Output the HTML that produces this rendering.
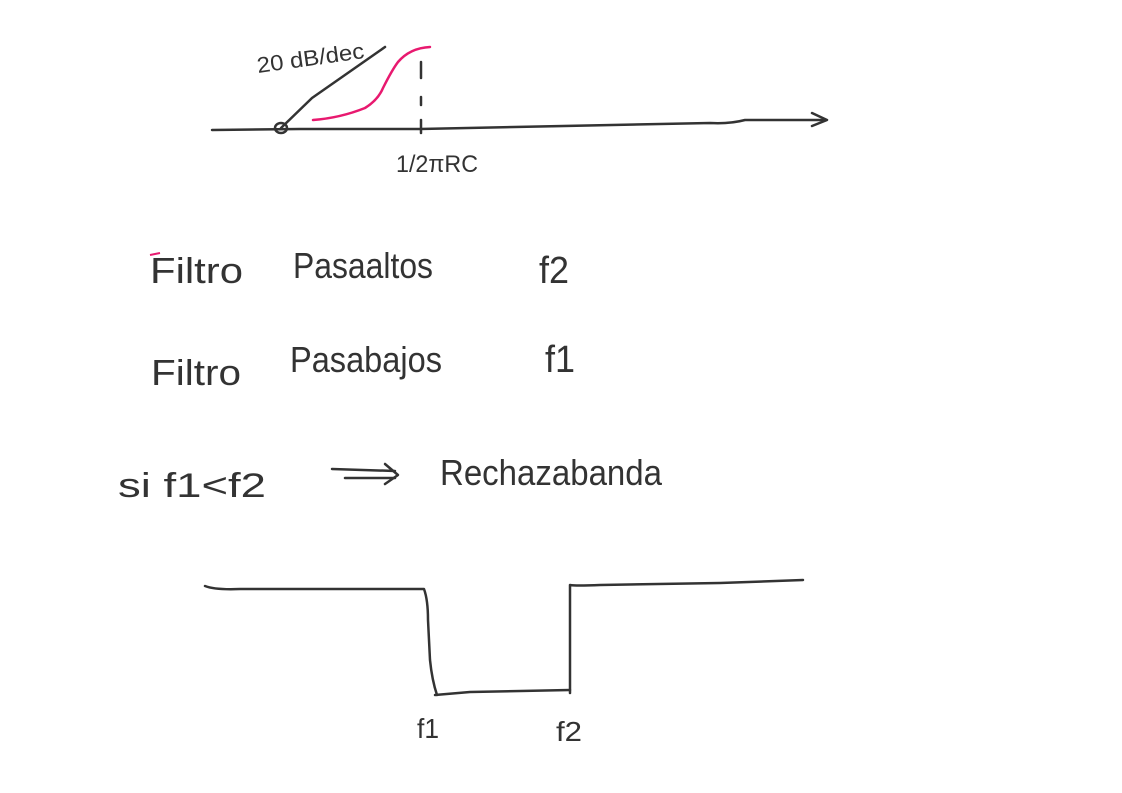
<!DOCTYPE html>
<html><head><meta charset="utf-8"><style>
html,body{margin:0;padding:0;background:#fff;}
svg{display:block}
text{font-family:"Liberation Sans",sans-serif;fill:#333;}
</style></head><body>
<svg width="1122" height="793" viewBox="0 0 1122 793" xmlns="http://www.w3.org/2000/svg">
<g fill="none" stroke="#333" stroke-width="2.5" stroke-linecap="round" stroke-linejoin="round">
<path d="M212 130 L300 129 L420 129 Q600 125 710 123 Q730 124 745 120 L825 120"/>
<path d="M812 113 L827 120 L812 126"/>
<ellipse cx="281" cy="128" rx="6" ry="5"/>
<path d="M281 128 L312 98 L385 47"/>
<path d="M421 62 L421 78 M421 97 L421 105 M421 120 L421 133"/>
<path d="M205 586 Q215 590 240 589 L424 589 Q428 600 428 620 L430 660 Q432 680 437 695"/>
<path d="M435 695 L470 692 L570 690"/>
<path d="M570 693 L570 585 Q575 586 600 585 L720 583 L803 580"/>
<path d="M332 469 L395 471 M345 478 L395 478"/>
<path d="M385 464 L398 475 L385 484"/>
</g>
<path d="M313 120 Q340 118 365 108 Q378 100 383 88 Q392 70 398 62 Q410 48 430 47" fill="none" stroke="#e8196f" stroke-width="2.5" stroke-linecap="round"/>
<path d="M150 255 L160 253" stroke="#e8196f" stroke-width="2"/>
<g style="fill:#3a3a3a">
<text x="258" y="73" font-size="22" textLength="108" lengthAdjust="spacingAndGlyphs" transform="rotate(-8 258 73)">20 dB/dec</text>
<text x="396" y="172" font-size="24" textLength="82" lengthAdjust="spacingAndGlyphs">1/2πRC</text>
<text x="150" y="283" font-size="36" textLength="93" lengthAdjust="spacingAndGlyphs">Filtro</text>
<text x="293" y="278" font-size="36" textLength="140" lengthAdjust="spacingAndGlyphs">Pasaaltos</text>
<text x="539" y="283" font-size="38" textLength="30" lengthAdjust="spacingAndGlyphs">f2</text>
<text x="151" y="385" font-size="36" textLength="90" lengthAdjust="spacingAndGlyphs">Filtro</text>
<text x="290" y="372" font-size="36" textLength="152" lengthAdjust="spacingAndGlyphs">Pasabajos</text>
<text x="545" y="372" font-size="38" textLength="30" lengthAdjust="spacingAndGlyphs">f1</text>
<text x="118" y="497" font-size="34" textLength="148" lengthAdjust="spacingAndGlyphs">si f1&lt;f2</text>
<text x="440" y="485" font-size="36" textLength="222" lengthAdjust="spacingAndGlyphs">Rechazabanda</text>
<text x="417" y="738" font-size="28" textLength="22" lengthAdjust="spacingAndGlyphs">f1</text>
<text x="556" y="741" font-size="28" textLength="26" lengthAdjust="spacingAndGlyphs">f2</text>
</g>
</svg>
</body></html>
